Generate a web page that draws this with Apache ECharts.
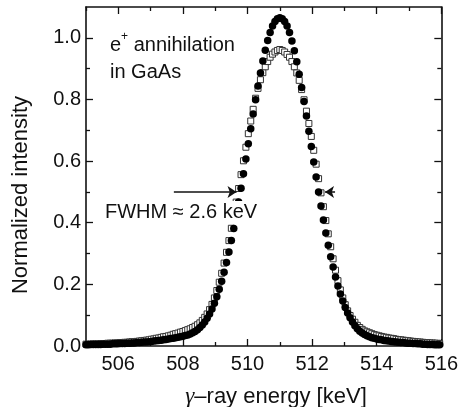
<!DOCTYPE html>
<html>
<head>
<meta charset="utf-8">
<script src="https://cdn.jsdelivr.net/npm/echarts@6/dist/echarts.min.js"></script>
<style>
  html, body { margin: 0; padding: 0; background: #fff; }
  #chart { width: 461px; height: 407px; }
</style>
</head>
<body>
<div id="chart"></div>
<script>
// Channel energies [keV]
const energy = [
  505.000, 505.075, 505.150, 505.225, 505.300, 505.375, 505.450, 505.525, 505.600, 505.675,
  505.750, 505.825, 505.900, 505.975, 506.050, 506.125, 506.200, 506.275, 506.350, 506.425,
  506.500, 506.575, 506.650, 506.725, 506.800, 506.875, 506.950, 507.025, 507.100, 507.175,
  507.250, 507.325, 507.400, 507.475, 507.550, 507.625, 507.700, 507.775, 507.850, 507.925,
  508.000, 508.075, 508.150, 508.225, 508.300, 508.375, 508.450, 508.525, 508.600, 508.675,
  508.750, 508.825, 508.900, 508.975, 509.050, 509.125, 509.200, 509.275, 509.350, 509.425,
  509.500, 509.575, 509.650, 509.725, 509.800, 509.875, 509.950, 510.025, 510.100, 510.175,
  510.250, 510.325, 510.400, 510.475, 510.550, 510.625, 510.700, 510.775, 510.850, 510.925,
  511.000, 511.075, 511.150, 511.225, 511.300, 511.375, 511.450, 511.525, 511.600, 511.675,
  511.750, 511.825, 511.900, 511.975, 512.050, 512.125, 512.200, 512.275, 512.350, 512.425,
  512.500, 512.575, 512.650, 512.725, 512.800, 512.875, 512.950, 513.025, 513.100, 513.175,
  513.250, 513.325, 513.400, 513.475, 513.550, 513.625, 513.700, 513.775, 513.850, 513.925,
  514.000, 514.075, 514.150, 514.225, 514.300, 514.375, 514.450, 514.525, 514.600, 514.675,
  514.750, 514.825, 514.900, 514.975, 515.050, 515.125, 515.200, 515.275, 515.350, 515.425,
  515.500, 515.575, 515.650, 515.725, 515.800, 515.875, 515.950
];

// Normalized intensity, filled circles (narrow spectrum)
const intensityCircles = [
  0.004, 0.004, 0.005, 0.005, 0.005, 0.005, 0.005, 0.006, 0.006, 0.006,
  0.006, 0.007, 0.007, 0.007, 0.008, 0.008, 0.008, 0.009, 0.009, 0.010,
  0.010, 0.011, 0.011, 0.012, 0.013, 0.013, 0.014, 0.015, 0.016, 0.017,
  0.018, 0.019, 0.020, 0.021, 0.023, 0.024, 0.025, 0.027, 0.028, 0.030,
  0.032, 0.034, 0.036, 0.039, 0.043, 0.047, 0.053, 0.060, 0.068, 0.078,
  0.090, 0.104, 0.120, 0.139, 0.160, 0.184, 0.210, 0.239, 0.271, 0.305,
  0.342, 0.381, 0.423, 0.467, 0.512, 0.559, 0.607, 0.656, 0.705, 0.753,
  0.799, 0.844, 0.886, 0.925, 0.960, 0.991, 1.017, 1.038, 1.053, 1.062,
  1.065, 1.062, 1.053, 1.038, 1.017, 0.990, 0.958, 0.922, 0.882, 0.839,
  0.793, 0.746, 0.697, 0.647, 0.597, 0.548, 0.500, 0.454, 0.409, 0.367,
  0.327, 0.290, 0.256, 0.224, 0.195, 0.169, 0.146, 0.125, 0.107, 0.092,
  0.078, 0.066, 0.056, 0.048, 0.042, 0.037, 0.033, 0.030, 0.027, 0.025,
  0.023, 0.021, 0.020, 0.018, 0.017, 0.016, 0.015, 0.014, 0.013, 0.012,
  0.011, 0.011, 0.010, 0.009, 0.009, 0.008, 0.008, 0.007, 0.007, 0.006,
  0.006, 0.005, 0.005, 0.005, 0.004, 0.004, 0.004
];

// Normalized intensity, open squares (broadened spectrum)
const intensitySquares = [
  0.006, 0.006, 0.006, 0.007, 0.007, 0.007, 0.008, 0.008, 0.008, 0.009,
  0.009, 0.009, 0.010, 0.010, 0.011, 0.011, 0.012, 0.012, 0.013, 0.014,
  0.014, 0.015, 0.016, 0.017, 0.018, 0.019, 0.020, 0.022, 0.023, 0.025,
  0.026, 0.028, 0.030, 0.031, 0.033, 0.035, 0.038, 0.040, 0.042, 0.045,
  0.047, 0.050, 0.053, 0.056, 0.060, 0.064, 0.069, 0.075, 0.083, 0.093,
  0.104, 0.118, 0.135, 0.156, 0.180, 0.207, 0.236, 0.269, 0.304, 0.342,
  0.382, 0.424, 0.467, 0.511, 0.556, 0.601, 0.645, 0.689, 0.730, 0.768,
  0.804, 0.836, 0.864, 0.887, 0.906, 0.923, 0.937, 0.947, 0.954, 0.959,
  0.962, 0.959, 0.954, 0.946, 0.937, 0.923, 0.906, 0.886, 0.862, 0.832,
  0.799, 0.762, 0.722, 0.680, 0.635, 0.590, 0.543, 0.497, 0.452, 0.407,
  0.364, 0.322, 0.283, 0.246, 0.212, 0.182, 0.156, 0.134, 0.114, 0.099,
  0.087, 0.077, 0.067, 0.060, 0.054, 0.049, 0.046, 0.043, 0.040, 0.037,
  0.035, 0.033, 0.031, 0.029, 0.028, 0.026, 0.025, 0.024, 0.022, 0.021,
  0.020, 0.019, 0.018, 0.017, 0.016, 0.015, 0.014, 0.013, 0.013, 0.012,
  0.011, 0.011, 0.010, 0.010, 0.009, 0.009, 0.008
];

// Axis ticks
const xMajorTicks = [506, 508, 510, 512, 514, 516];
const xMinorTicks = [505, 507, 509, 511, 513, 515];
const yMajorTicks = [0, 0.2, 0.4, 0.6, 0.8, 1.0];
const yMinorTicks = [0.1, 0.3, 0.5, 0.7, 0.9];

// FWHM arrows: [tail energy, head energy, intensity]
const fwhmLeftArrow = [507.72, 509.66, 0.5];
const fwhmRightArrow = [512.71, 512.40, 0.5];

const FONT = 'Liberation Sans, Arial, sans-serif';
const INK = '#111';

function makeX(position, ticks, len, withLine, withLabel) {
  return {
    type: 'value', min: 505, max: 516, position: position,
    axisLine: { show: withLine, onZero: false, lineStyle: { color: INK, width: 1.6 } },
    axisTick: { show: true, inside: true, length: len, customValues: ticks,
                lineStyle: { color: INK, width: 1.3 } },
    axisLabel: withLabel ? { show: true, customValues: ticks, margin: 8,
                color: INK, fontSize: 20, fontFamily: FONT } : { show: false },
    splitLine: { show: false }
  };
}
function makeY(position, ticks, len, withLine, withLabel) {
  return {
    type: 'value', min: 0, max: 1.1, position: position,
    axisLine: { show: withLine, onZero: false, lineStyle: { color: INK, width: 1.6 } },
    axisTick: { show: true, inside: true, length: len, customValues: ticks,
                lineStyle: { color: INK, width: 1.3 } },
    axisLabel: withLabel ? { show: true, customValues: ticks, margin: 5,
                color: INK, fontSize: 20, fontFamily: FONT,
                formatter: v => v.toFixed(1) } : { show: false },
    splitLine: { show: false }
  };
}

const chart = echarts.init(document.getElementById('chart'), null, { renderer: 'canvas' });

chart.setOption({
  animation: false,
  backgroundColor: '#fff',
  grid: { left: 86, right: 15, top: 7, bottom: 61, containLabel: false },
  xAxis: [
    makeX('bottom', xMajorTicks, 7, true, true),
    makeX('bottom', xMinorTicks, 4, false, false),
    makeX('top', xMajorTicks, 7, true, false),
    makeX('top', xMinorTicks, 4, false, false)
  ],
  yAxis: [
    makeY('left', yMajorTicks, 7, true, true),
    makeY('left', yMinorTicks, 4, false, false),
    makeY('right', yMajorTicks, 7, true, false),
    makeY('right', yMinorTicks, 4, false, false)
  ],
  series: [
    {
      name: 'squares', type: 'scatter', xAxisIndex: 0, yAxisIndex: 0,
      symbol: 'rect', symbolSize: 6,
      itemStyle: { color: '#fff', borderColor: '#333', borderWidth: 1, opacity: 1 },
      data: energy.map((e, i) => [e, intensitySquares[i]]),
      z: 2
    },
    {
      name: 'circles', type: 'scatter', xAxisIndex: 0, yAxisIndex: 0,
      symbol: 'circle', symbolSize: 7.5,
      itemStyle: { color: '#000', opacity: 1 },
      data: energy.map((e, i) => [e, intensityCircles[i]]),
      z: 3,
      markLine: {
        silent: true, animation: false,
        symbol: ['none', 'arrow'], symbolSize: 9,
        label: { show: false },
        lineStyle: { color: INK, width: 1.5, type: 'solid' },
        data: [
          [{ coord: [fwhmLeftArrow[0], fwhmLeftArrow[2]] }, { coord: [fwhmLeftArrow[1], fwhmLeftArrow[2]] }],
          [{ coord: [fwhmRightArrow[0], fwhmRightArrow[2]] }, { coord: [fwhmRightArrow[1], fwhmRightArrow[2]] }]
        ]
      }
    }
  ],
  graphic: [
    {
      type: 'text', x: 110, y: 43,
      style: {
        text: '{a|e}{s|+}{a| annihilation}',
        textVerticalAlign: 'middle',
        rich: {
          a: { fontSize: 20, fontFamily: FONT, fill: INK, lineHeight: 24, verticalAlign: 'bottom' },
          s: { fontSize: 12, fontFamily: FONT, fill: INK, lineHeight: 24, verticalAlign: 'top' }
        }
      }
    },
    {
      type: 'text', x: 110, y: 72,
      style: { text: 'in GaAs', fontSize: 20, fontFamily: FONT, fill: INK,
               textVerticalAlign: 'middle' }
    },
    {
      type: 'text', x: 105, y: 212, z: 10,
      style: { text: 'FWHM \u2248 2.6 keV', fontSize: 20, fontFamily: FONT, fill: INK,
               textVerticalAlign: 'middle', backgroundColor: '#fff', padding: [1, 2, 1, 0] }
    },
    {
      type: 'text', x: 276, y: 397,
      style: {
        text: '{g|\u03b3}{a|\u2013ray energy [keV]}',
        textAlign: 'center', textVerticalAlign: 'middle',
        rich: {
          g: { fontSize: 23, fontFamily: 'Liberation Serif, serif', fontStyle: 'italic', fill: INK },
          a: { fontSize: 22, fontFamily: FONT, fill: INK }
        }
      }
    },
    {
      type: 'text', x: 21, y: 195, rotation: Math.PI / 2,
      style: { text: 'Normalized intensity', fontSize: 22, fontFamily: FONT, fill: INK,
               textAlign: 'center', textVerticalAlign: 'middle' }
    }
  ]
});
</script>
</body>
</html>
